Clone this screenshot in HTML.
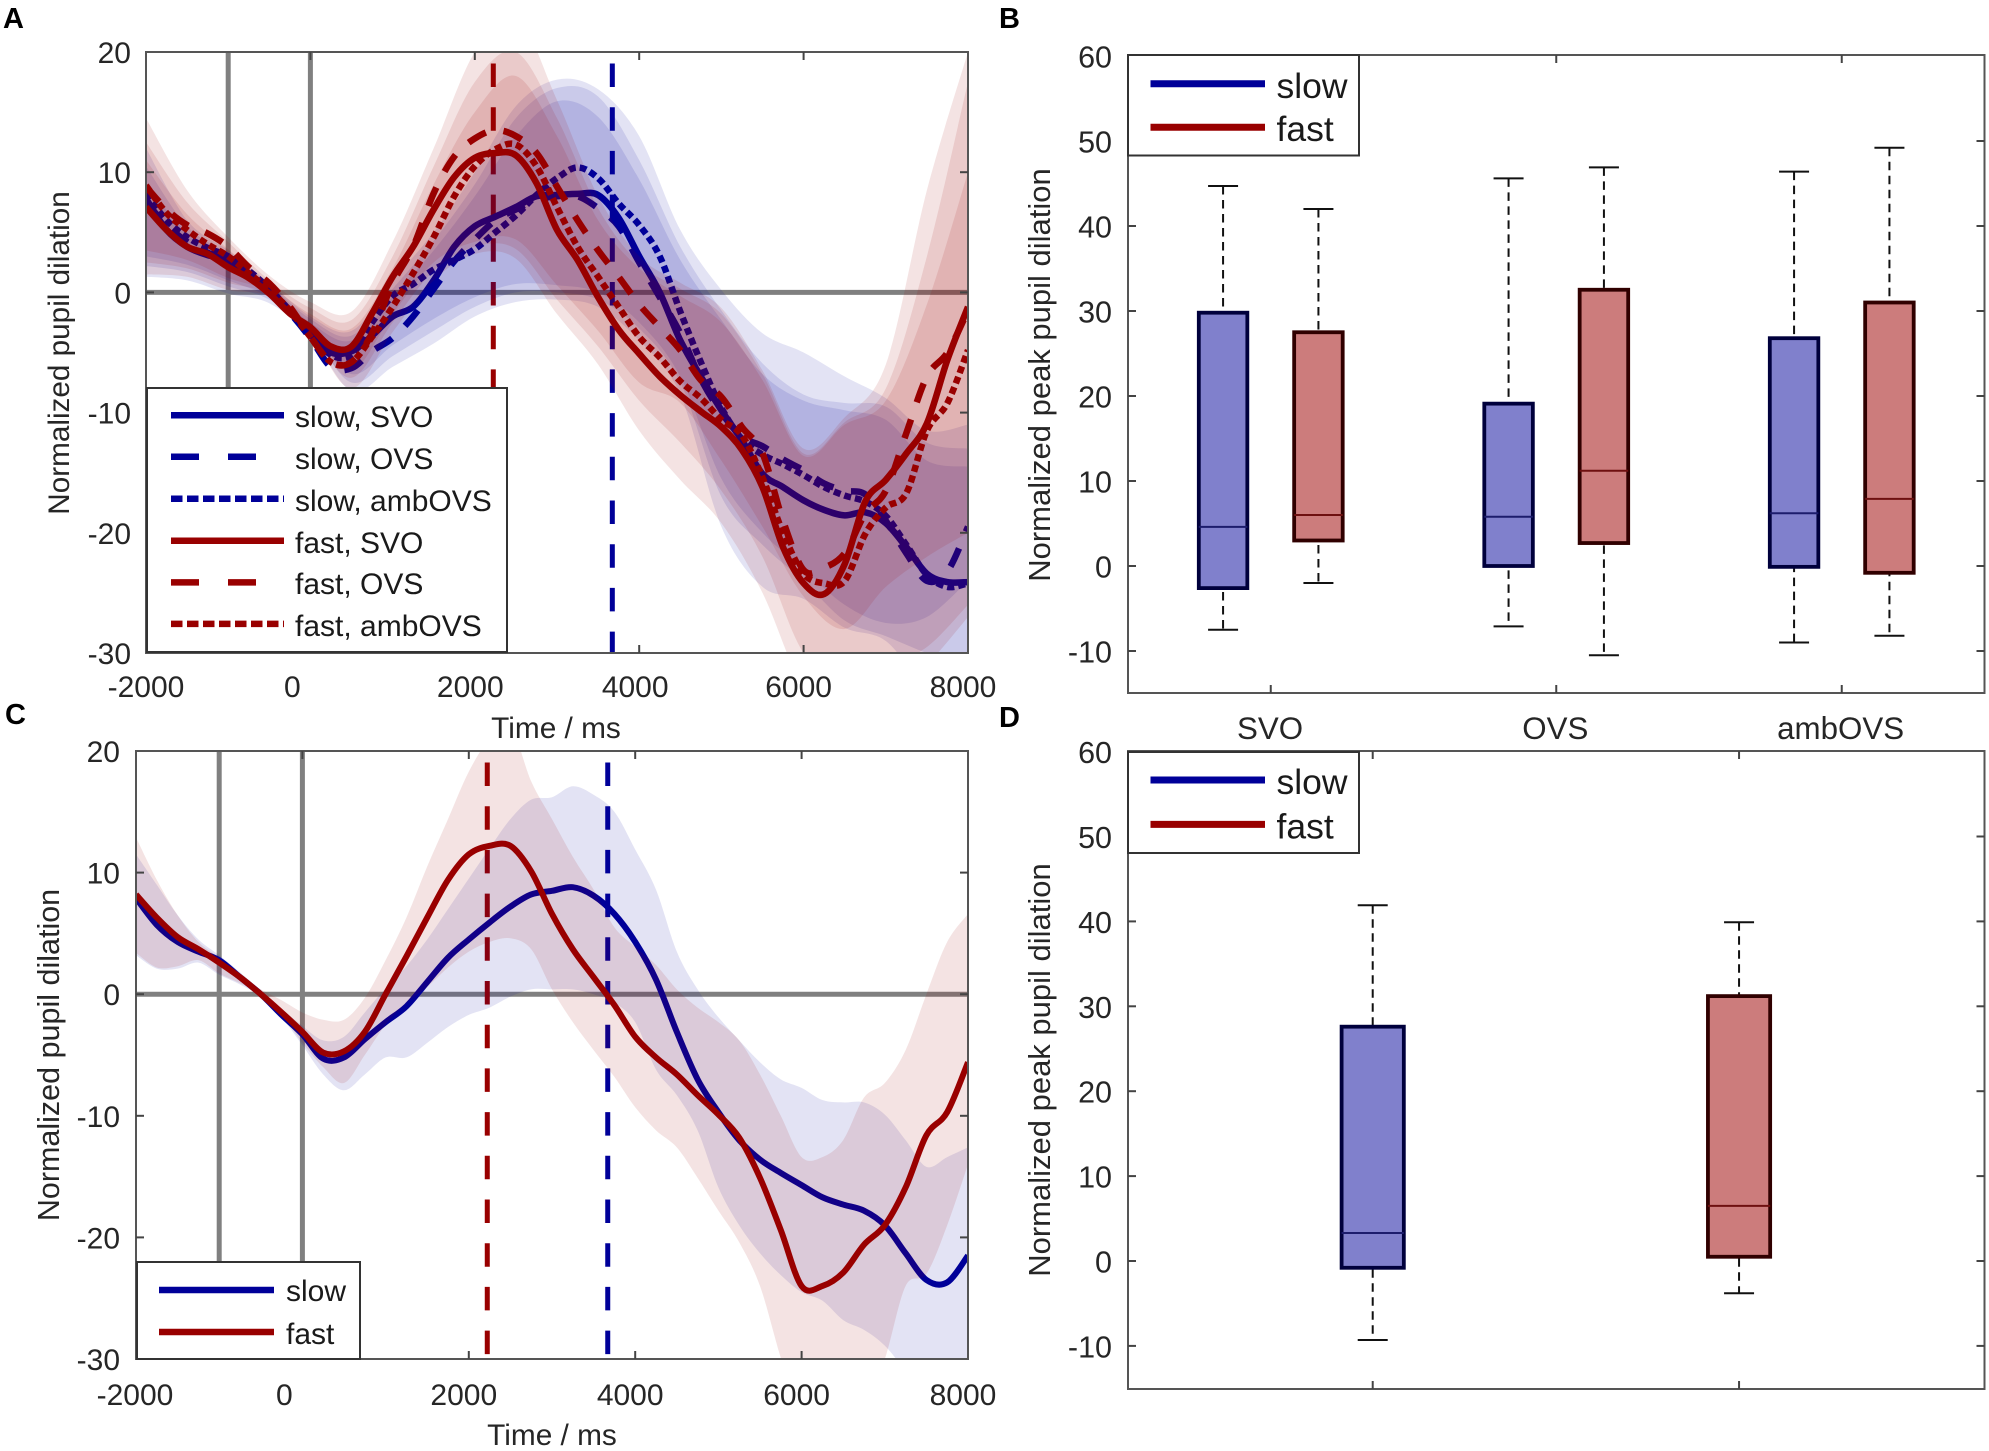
<!DOCTYPE html>
<html lang="en">
<head>
<meta charset="utf-8">
<title>Pupil dilation by speed and sentence type</title>
<style>
html,body{margin:0;padding:0;background:#fff;}
svg{display:block;font-family:"Liberation Sans",Arial,sans-serif;}
</style>
</head>
<body>
<svg id="fig" xmlns="http://www.w3.org/2000/svg" width="1989" height="1451" viewBox="0 0 1989 1451">
  <defs>
    <clipPath id="clipA"><rect x="146" y="52" width="822" height="601"/></clipPath>
    <clipPath id="clipC"><rect x="136" y="751" width="832" height="608"/></clipPath>
  </defs>
  <text x="3" y="28" font-size="29" font-weight="bold" fill="#000">A</text>
  <text x="999" y="28" font-size="29" font-weight="bold" fill="#000">B</text>
  <text x="5" y="724" font-size="29" font-weight="bold" fill="#000">C</text>
  <text x="999" y="727" font-size="29" font-weight="bold" fill="#000">D</text>
</svg>
<script>
/* ---------- shared axis data ---------- */
const timeTicks = [-2000, 0, 2000, 4000, 6000, 8000];
const dilationTicks = [20, 10, 0, -10, -20, -30];
const peakTicks = [60, 50, 40, 30, 20, 10, 0, -10];
const referenceGreyTimes = [-1000, 0];
const fastPeakTimeA = 2225;
const slowPeakTimeA = 3673;
const fastPeakTimeC = 2222;
const slowPeakTimeC = 3670;

/* time grid for the curves (ms) */
const curveTimes = [-2000,-1750,-1500,-1250,-1000,-750,-500,-250,0,250,500,750,1000,1250,1500,1750,2000,2250,2500,2750,3000,3250,3500,3750,4000,4250,4500,4750,5000,5250,5500,5750,6000,6250,6500,6750,7000,7250,7500,7750,8000];
/* time grid for panel A's error bands (ms) */
const bandTimes = [-2000,-1500,-1000,-500,0,500,1000,1500,2000,2500,3000,3500,4000,4500,5000,5500,6000,6500,7000,7500,8000];

/* ---------- panel A curves ---------- */
const slowSvoA = [7.8,5.2,3.8,3.1,2.7,1.3,.2,-1.6,-3.5,-5,-4.9,-3.6,-2,-1.2,1,3.8,5.5,6.3,7.1,8,8.1,8.2,8.1,6.2,3,0,-4,-7,-9.8,-12.3,-15.1,-16.2,-17.3,-18.1,-18.55,-18.3,-19.2,-21.2,-23.4,-24.1,-24.1];
const slowOvsA = [7.5,5.6,4.2,3.3,2.6,1.5,.1,-1.7,-3.8,-6.2,-6.3,-4.9,-3.8,-2,.3,2.6,4.4,6,6.9,7.7,8,8,7,5.5,2.5,-.4,-3.4,-7.2,-10,-12,-12.8,-13.9,-14.8,-15.9,-16.5,-16.8,-19,-21.7,-24,-23.2,-19.5];
const slowAmbA = [8.2,6,4.6,3.7,3,1.8,.3,-1.5,-3.4,-5.2,-5.2,-2.5,-.3,.7,1.9,2.7,3.6,5,6.4,8.1,9.5,10.4,9.5,7.4,5.6,3,-1.6,-5.8,-9.6,-12.2,-13.5,-14.3,-15.2,-16.2,-16.9,-17.4,-18.6,-21,-23.5,-24.5,-24.2];
const fastSvoA = [7.1,5.2,3.8,3.2,2.1,1.2,-.1,-1.75,-2.9,-4.5,-4.5,-1.75,1.3,3.8,6.9,9.6,11.2,11.6,11.4,9.1,5.2,2.7,-.4,-3.1,-5.1,-7,-8.55,-9.9,-11.2,-13.1,-16.2,-21.2,-24.2,-25.1,-22.6,-17.4,-15.6,-13.4,-10.9,-5.6,-1.2];
const fastOvsA = [8.8,6.9,5.6,4.9,3.8,2.1,.75,-1.2,-3.7,-5.8,-5.8,-3.4,.75,3.8,8.25,11.3,12.8,13.5,13,11.6,8.8,6,3.5,1.3,-1,-2.9,-4.8,-7.3,-8.7,-11.2,-13.4,-19,-23.1,-22.9,-21.7,-18.4,-16.5,-11.7,-7,-5,-1.5];
const fastAmbA = [8.9,6.6,5.2,4,3,1.6,.2,-1.5,-3.7,-5.8,-5.8,-3.7,-1.2,1.6,4.6,8,10.5,11.9,12.3,10.5,7.1,3.8,1.3,-1.2,-3.7,-5.4,-7.4,-8.8,-10.6,-11.9,-15.4,-20,-23.4,-24.2,-24,-20.1,-17.9,-16.7,-11.5,-9.2,-4.8];

/* ---------- panel A error bands ---------- */
const slowSvoUpperA = [12,6,3.5,.8,-2,-3.2,1,5,10,15.5,17.7,16.9,13,5.2,.2,-3.4,-5,-7,-8.8,-11.5,-11];
const slowSvoLowerA = [1.3,1,-.1,-.9,-3.6,-8.2,-6.2,-4.25,-2,-.8,-.6,-1.2,-4,-8.5,-19.5,-24.5,-25.5,-27.9,-29,-33,-35];
const slowOvsUpperA = [10.5,5.5,3.2,.6,-2.2,-3.6,.3,4.3,9,14.5,17,16.3,11,3.8,-1.5,-5.9,-8.5,-9.2,-9.5,-12.5,-13];
const slowOvsLowerA = [2.2,1.7,.5,-.6,-3.3,-7.5,-5.3,-3.2,-1.2,0,0,-.6,-3,-7.5,-17,-21,-24,-27.3,-28.6,-30,-31];
const slowAmbUpperA = [9,5,3,.4,-2.5,-4,-.3,3.5,8,13,15.9,14.6,9.4,2.7,-2.3,-6.8,-9,-9.8,-10.6,-14,-14.5];
const slowAmbLowerA = [3,2.3,1,-.4,-3,-6.8,-4.4,-2.2,-.4,.7,.6,0,-2.5,-7,-15.5,-20,-23,-26,-27.5,-27,-24];
const fastSvoUpperA = [14.5,8.5,4.6,1.4,-.8,-1.6,4.2,12,20,23,16,8,3,.8,-1.3,-6.5,-13,-10.4,-6,8.5,20];
const fastSvoLowerA = [1.5,1.3,.2,-.4,-3.6,-8,-3.3,1,3.2,2.8,-1.8,-6,-11.5,-15.6,-19.2,-25,-33,-36,-34,-31,-27];
const fastOvsUpperA = [12.5,7.5,4.2,1,-1.3,-2.3,3,10.5,17.5,20,14.5,7,2.4,.3,-1.8,-6.8,-13.4,-10.8,-8,3,17.5];
const fastOvsLowerA = [2.5,2,.8,-.2,-3.4,-7.1,-2.5,1.8,3.8,3.6,-.6,-4.5,-9,-12.5,-16.5,-22,-30,-32,-31,-29.5,-26];
const fastAmbUpperA = [11,6.5,3.6,.7,-1.8,-3,2,9,15,18,13,6,2,-.3,-2.5,-7.3,-13.6,-11,-9,-1,10];
const fastAmbLowerA = [3.5,2.7,1.2,0,-3.2,-6.5,-1.8,2.5,4.2,4.4,.6,-3.2,-7.5,-9.2,-14,-19.5,-25.3,-28,-24.5,-22,-20];

/* ---------- panel C curves and bands ---------- */
const slowC = [7.9,5.7,4.3,3.5,2.8,1.4,0,-1.7,-3.3,-5.3,-5.2,-3.7,-2.3,-1,1,3,4.5,5.9,7.2,8.2,8.5,8.8,8.1,6.6,4.3,1.2,-3.1,-7,-9.7,-12,-13.6,-14.7,-15.7,-16.7,-17.3,-17.8,-19,-21.3,-23.5,-23.7,-21.5];
const fastC = [8.2,6.3,4.7,3.7,2.6,1.4,0,-1.5,-3.1,-4.8,-4.7,-3.1,0,3.1,6.3,9.4,11.5,12.2,12.2,10.1,6.6,3.7,1.4,-.9,-3.5,-5.2,-6.6,-8.3,-9.9,-11.8,-15.1,-19.4,-24,-24,-22.9,-20.6,-19,-15.9,-11.6,-9.7,-5.6];
const slowUpperC = [11.5,9,6.5,4.5,3.2,1.8,.3,-1.2,-2.6,-3.8,-3.5,-1.5,.5,2.3,4.5,7,9.5,12,14.4,16,16.2,17.1,16.4,15,11.9,8.6,3.5,.4,-1.9,-3.8,-5.6,-7,-7.7,-8.7,-8.9,-8.9,-9.9,-12,-14.2,-13.4,-12.6];
const slowLowerC = [3.2,2.1,2.1,2.6,1.6,.8,-.2,-1.9,-4.2,-6.6,-7.9,-6.6,-5.2,-5.2,-4,-2.7,-1.7,-1.1,-.2,.4,.4,.4,0,-.7,-2.3,-6.2,-8.3,-11.2,-15.9,-19,-21.3,-23.1,-24.5,-25.2,-26.8,-27.6,-28.9,-31,-33,-34,-35];
const fastUpperC = [12.9,9.4,6.5,4.3,3,1.5,.4,-.5,-1.5,-2.1,-2.1,-.3,2.8,6.3,10.5,14.4,18.3,21,22,17.5,14.4,11.3,8.6,5.5,3.9,2.4,.4,-1.1,-2.3,-3.8,-6.6,-10,-13.4,-13.4,-12,-8.5,-7.3,-4.6,0,4.3,6.6];
const fastLowerC = [3.4,2.2,2.3,2.8,1.7,.9,0,-1.7,-4,-6,-7.3,-5,-2.5,-.7,.6,2.2,3.5,4.3,4.6,3.7,.4,-2.3,-4.6,-6.8,-9.3,-11.2,-12.6,-15.1,-17.8,-20.4,-24,-29.9,-35,-36,-36,-34,-30,-24,-23,-19,-14];

/* ---------- panel B boxplots ---------- */
const categoriesB = ["SVO", "OVS", "ambOVS"];
const slowWhiskerHighB = [44.7, 45.6, 46.4];
const slowQ3B = [29.8, 19.1, 26.8];
const slowMedianB = [4.6, 5.8, 6.2];
const slowQ1B = [-2.6, 0, -0.1];
const slowWhiskerLowB = [-7.5, -7.1, -9];
const fastWhiskerHighB = [42, 46.9, 49.2];
const fastQ3B = [27.5, 32.5, 31];
const fastMedianB = [6, 11.2, 7.9];
const fastQ1B = [3, 2.7, -0.8];
const fastWhiskerLowB = [-2, -10.5, -8.2];

/* ---------- panel D boxplots ---------- */
const categoriesD = ["slow", "fast"];
const whiskerHighD = [41.9, 39.9];
const q3D = [27.6, 31.2];
const medianD = [3.3, 6.5];
const q1D = [-0.8, 0.5];
const whiskerLowD = [-9.3, -3.8];

/* ---------- helpers ---------- */
const SVGNS = "http://www.w3.org/2000/svg";
const fig = document.getElementById("fig");
const BLUE = "#000099";
const RED = "#990000";
const AXIS = "#555555";
const TEXT = "#262626";

function mk(tag, props, parent) {
  const e = document.createElementNS(SVGNS, tag);
  for (const k in props) e.setAttribute(k, props[k]);
  (parent || fig).appendChild(e);
  return e;
}
function smooth(pts) {
  let d = "M" + pts[0][0].toFixed(2) + " " + pts[0][1].toFixed(2);
  d += smoothTail(pts);
  return d;
}
function smoothTail(pts) {
  let d = "";
  for (let i = 0; i < pts.length - 1; i++) {
    const p0 = pts[Math.max(i - 1, 0)], p1 = pts[i], p2 = pts[i + 1], p3 = pts[Math.min(i + 2, pts.length - 1)];
    const c1x = p1[0] + (p2[0] - p0[0]) / 6, c1y = p1[1] + (p2[1] - p0[1]) / 6;
    const c2x = p2[0] - (p3[0] - p1[0]) / 6, c2y = p2[1] - (p3[1] - p1[1]) / 6;
    d += "C" + c1x.toFixed(2) + " " + c1y.toFixed(2) + " " + c2x.toFixed(2) + " " + c2y.toFixed(2) + " " + p2[0].toFixed(2) + " " + p2[1].toFixed(2);
  }
  return d;
}
function drawText(name, str, x, y, size, anchor, rot) {
  const t = mk("text", {x: x, y: y, "font-size": size, "text-anchor": anchor, fill: TEXT});
  
  
  if (rot) t.setAttribute("transform", "rotate(-90 " + x + " " + y + ")");
  t.textContent = str;
  return t;
}
function drawFrame(name, P) {
  const r = mk("rect", {x: P.left, y: P.top, width: P.right - P.left, height: P.bottom - P.top, fill: "none", stroke: AXIS, "stroke-width": 2});
  
  
}
function drawTickMark(name, x1, y1, x2, y2) {
  const l = mk("line", {x1: x1, y1: y1, x2: x2, y2: y2, stroke: "#444", "stroke-width": 2});
  
  
}
function drawLegend(prefix, box, entries, lineX1, lineX2, textX, size) {
  const g = mk("g", {});
  
  
  const r = mk("rect", {x: box.x, y: box.y, width: box.w, height: box.h, fill: "#fff", stroke: "#333", "stroke-width": 2}, g);
  
  
  entries.forEach(function (en) {
    const sample = mk("line", {x1: lineX1, x2: lineX2, y1: en.y, y2: en.y, stroke: en.color, "stroke-width": en.width || 6.5, "stroke-dasharray": en.dash || "none"}, g);
    
    
    const t = mk("text", {x: textX, y: en.base, "font-size": size, fill: "#1a1a1a"}, g);
    
    
    t.textContent = en.label;
  });
}

/* ---------- line panels (A, C) ---------- */
function linePanel(P, o) {
  const X = function (t) { return P.left + (t + 2000) / 10000 * (P.right - P.left); };
  const Y = function (v) { return P.top + (20 - v) / 50 * (P.bottom - P.top); };
  const group = mk("g", {"clip-path": "url(#" + o.clip + ")"});
  
  

  referenceGreyTimes.forEach(function (t) {
    const l = mk("line", {x1: X(t), x2: X(t), y1: P.top, y2: P.bottom, stroke: "#808080", "stroke-width": 5}, group);
    
    
  });
  const zero = mk("line", {x1: P.left, x2: P.right, y1: Y(0), y2: Y(0), stroke: "#808080", "stroke-width": 5}, group);
  
  

  [[o.fastPeak, RED, "fast-peak-marker"], [o.slowPeak, BLUE, "slow-peak-marker"]].forEach(function (m) {
    const l = mk("line", {x1: X(m[0]), x2: X(m[0]), y1: P.top + 11.5, y2: P.bottom, stroke: m[1], "stroke-width": 5, "stroke-dasharray": "23.5 20.2"}, group);
    
    
  });

  function band(times, upper, lower, color, name) {
    const up = times.map(function (t, i) { return [X(t), Y(upper[i])]; });
    const lo = times.map(function (t, i) { return [X(t), Y(lower[i])]; }).reverse();
    const d = smooth(up) + "L" + lo[0][0].toFixed(2) + " " + lo[0][1].toFixed(2) + smoothTail(lo) + "Z";
    const p = mk("path", {d: d, fill: color, "fill-opacity": 0.11, stroke: "none"}, group);
    
    
  }
  function curve(values, color, dash, name) {
    const pts = curveTimes.map(function (t, i) { return [X(t), Y(values[i])]; });
    const p = mk("path", {d: smooth(pts), fill: "none", stroke: color, "stroke-width": o.lineWidth, "stroke-linejoin": "round", "stroke-dasharray": dash || "none"}, group);
    
    
  }
  o.slowBands.forEach(function (b) { band(b[0], b[1], b[2], BLUE, b[3]); });
  o.slowCurves.forEach(function (c) { curve(c[0], BLUE, c[1], c[2]); });
  o.fastBands.forEach(function (b) { band(b[0], b[1], b[2], RED, b[3]); });
  o.fastCurves.forEach(function (c) { curve(c[0], RED, c[1], c[2]); });

  drawFrame(o.id + '-axes-frame', P);
  timeTicks.forEach(function (t, i) {
    if (t > -2000 && t < 8000) {
      drawTickMark(o.id + '-x-tick-top', X(t), P.top, X(t), P.top + 8);
      drawTickMark(o.id + '-x-tick-bottom', X(t), P.bottom, X(t), P.bottom - 8);
    }
    drawText(o.id + '-x-tick-label', String(t), X(t) + o.xNudge[i], o.xBase, 30, "middle");
  });
  dilationTicks.forEach(function (v) {
    if (v < 20 && v > -30) {
      drawTickMark(o.id + '-y-tick-left', P.left, Y(v), P.left + 8, Y(v));
      drawTickMark(o.id + '-y-tick-right', P.right, Y(v), P.right - 8, Y(v));
    }
    drawText(o.id + '-y-tick-label', String(v), o.yLabelRight, Y(v) + 11, 30, "end");
  });
  drawText(o.id + '-y-axis-title', "Normalized pupil dilation", o.yTitleX, o.yTitleY, o.yTitleSize, "middle", true);
  drawText(o.id + '-x-axis-title', "Time / ms", o.xTitleX, o.xTitleY, 29.8, "middle");
  drawLegend(o.id + '-legend', o.legend.box, o.legend.entries, o.legend.x1, o.legend.x2, o.legend.tx, 30);
}

linePanel({left: 146, right: 968, top: 52, bottom: 653}, {
  id: "panel-a", clip: "clipA", fastPeak: fastPeakTimeA, slowPeak: slowPeakTimeA, lineWidth: 6.5,
  slowBands: [
    [bandTimes, slowSvoUpperA, slowSvoLowerA, "slow-svo"],
    [bandTimes, slowOvsUpperA, slowOvsLowerA, "slow-ovs"],
    [bandTimes, slowAmbUpperA, slowAmbLowerA, "slow-ambovs"]
  ],
  slowCurves: [[slowSvoA, null, "slow-svo"], [slowOvsA, "20 18", "slow-ovs"], [slowAmbA, "7 4", "slow-ambovs"]],
  fastBands: [
    [bandTimes, fastSvoUpperA, fastSvoLowerA, "fast-svo"],
    [bandTimes, fastOvsUpperA, fastOvsLowerA, "fast-ovs"],
    [bandTimes, fastAmbUpperA, fastAmbLowerA, "fast-ambovs"]
  ],
  fastCurves: [[fastSvoA, null, "fast-svo"], [fastOvsA, "20 18", "fast-ovs"], [fastAmbA, "7 4", "fast-ambovs"]],
  xNudge: [0, -18, -4.5, -4, -5, -5], xBase: 697, yLabelRight: 131, yTitleX: 69, yTitleY: 353, yTitleSize: 29.7, xTitleX: 556, xTitleY: 738,
  legend: {
    box: {x: 147, y: 388, w: 360, h: 264}, x1: 171, x2: 284, tx: 295,
    entries: [
      {y: 415.3, base: 427, color: BLUE, label: "slow, SVO"},
      {y: 456.8, base: 469, color: BLUE, dash: "28 29", label: "slow, OVS"},
      {y: 498.8, base: 511, color: BLUE, dash: "11.5 4.5", label: "slow, ambOVS"},
      {y: 540.8, base: 553, color: RED, label: "fast, SVO"},
      {y: 582.4, base: 594, color: RED, dash: "28 29", label: "fast, OVS"},
      {y: 623.9, base: 636, color: RED, dash: "11.5 4.5", label: "fast, ambOVS"}
    ]
  }
});

linePanel({left: 136, right: 968, top: 751, bottom: 1359}, {
  id: "panel-c", clip: "clipC", fastPeak: fastPeakTimeC, slowPeak: slowPeakTimeC, lineWidth: 6,
  slowBands: [[curveTimes, slowUpperC, slowLowerC, "slow"]],
  slowCurves: [[slowC, null, "slow"]],
  fastBands: [[curveTimes, fastUpperC, fastLowerC, "fast"]],
  fastCurves: [[fastC, null, "fast"]],
  xNudge: [-1, -18, -5, -5, -5, -5], xBase: 1405, yLabelRight: 120, yTitleX: 59, yTitleY: 1055, yTitleSize: 30.5, xTitleX: 552, xTitleY: 1445,
  legend: {
    box: {x: 137, y: 1262, w: 223, h: 97}, x1: 159, x2: 274, tx: 286,
    entries: [
      {y: 1290, base: 1301, color: BLUE, label: "slow"},
      {y: 1332, base: 1344, color: RED, label: "fast"}
    ]
  }
});

/* ---------- box panels (B, D) ---------- */
function boxPanel(P, o) {
  const X = function (c) { return P.left + (c - o.xMin) / (o.xMax - o.xMin) * (P.right - P.left); };
  const Y = function (v) { return P.zero - v * P.perUnit; };
  function box(cx, high, q3, med, q1, low, fill, edge, medColor, name) {
    const hw = 0.085 * o.unit, capHw = 15;
    const g = mk("g", {});
    
    
    const whisker = mk("line", {x1: cx, x2: cx, y1: Y(high), y2: Y(low), stroke: "#111", "stroke-width": 2, "stroke-dasharray": "8.5 5.5"}, g);
    
    
    [high, low].forEach(function (v) {
      const cap = mk("line", {x1: cx - capHw, x2: cx + capHw, y1: Y(v), y2: Y(v), stroke: "#111", "stroke-width": 2}, g);
      
      
    });
    const r = mk("rect", {x: cx - hw, y: Y(q3), width: 2 * hw, height: Y(q1) - Y(q3), fill: fill, stroke: edge, "stroke-width": 3.8}, g);
    
    
    const m = mk("line", {x1: cx - hw, x2: cx + hw, y1: Y(med), y2: Y(med), stroke: medColor, "stroke-width": 2}, g);
    
    
  }
  o.boxes.forEach(function (b) {
    box(X(b.pos), b.high, b.q3, b.med, b.q1, b.low, b.fill, b.edge, b.medColor, o.id + '-box-' + b.name);
  });
  drawFrame(o.id + '-axes-frame', P);
  o.tickPos.forEach(function (c) {
    drawTickMark(o.id + '-x-tick-top', X(c), P.top, X(c), P.top + 8);
    drawTickMark(o.id + '-x-tick-bottom', X(c), P.bottom, X(c), P.bottom - 8);
  });
  peakTicks.forEach(function (v) {
    if (v < 60) {
      drawTickMark(o.id + '-y-tick-left', P.left, Y(v), P.left + 8, Y(v));
      drawTickMark(o.id + '-y-tick-right', P.right, Y(v), P.right - 8, Y(v));
    }
    drawText(o.id + '-y-tick-label', String(v), 1112, Y(v) + 11.5, 30.5, "end");
  });
  drawText(o.id + '-y-axis-title', "Normalized peak pupil dilation", 1050, o.yTitleY, 31, "middle", true);
  drawLegend(o.id + '-legend', o.legend.box, o.legend.entries, 1150.5, 1265, 1276.5, 35.5);
}

const SLOW_FILL = "#8080cc", FAST_FILL = "#cc7c7c";
const SLOW_EDGE = "#00003c", FAST_EDGE = "#300000";
const SLOW_MED = "#1c1c6c", FAST_MED = "#6e1010";

const boxesB = [];
categoriesB.forEach(function (name, i) {
  boxesB.push({pos: i + 1 - 0.167, name: name + "-slow", high: slowWhiskerHighB[i], q3: slowQ3B[i], med: slowMedianB[i], q1: slowQ1B[i], low: slowWhiskerLowB[i], fill: SLOW_FILL, edge: SLOW_EDGE, medColor: SLOW_MED});
  boxesB.push({pos: i + 1 + 0.167, name: name + "-fast", high: fastWhiskerHighB[i], q3: fastQ3B[i], med: fastMedianB[i], q1: fastQ1B[i], low: fastWhiskerLowB[i], fill: FAST_FILL, edge: FAST_EDGE, medColor: FAST_MED});
});
boxPanel({left: 1128, right: 1984.5, top: 55, bottom: 693, zero: 566, perUnit: 8.5}, {
  id: "panel-b", xMin: 0.5, xMax: 3.5, unit: 285.5, boxes: boxesB, tickPos: [1, 2, 3], yTitleY: 375,
  legend: {
    box: {x: 1128, y: 55, w: 231, h: 100.5},
    entries: [
      {y: 83.7, base: 98, color: BLUE, width: 7, label: "slow"},
      {y: 127.3, base: 141, color: RED, width: 7, label: "fast"}
    ]
  }
});
categoriesB.forEach(function (name, i) {
  drawText('panel-b-category-label', name, 1270 + i * 285.3, 739, 31.3, "middle");
});

const boxesD = categoriesD.map(function (name, i) {
  return {pos: i + 1, name: name, high: whiskerHighD[i], q3: q3D[i], med: medianD[i], q1: q1D[i], low: whiskerLowD[i],
    fill: i === 0 ? SLOW_FILL : FAST_FILL, edge: i === 0 ? SLOW_EDGE : FAST_EDGE, medColor: i === 0 ? SLOW_MED : FAST_MED};
});
boxPanel({left: 1128, right: 1984.5, top: 751, bottom: 1389, zero: 1261, perUnit: 8.49}, {
  id: "panel-d", xMin: 1 - 0.668, xMax: 2 + 0.67, unit: 366, boxes: boxesD, tickPos: [1, 2], yTitleY: 1070,
  legend: {
    box: {x: 1128, y: 752, w: 231, h: 101},
    entries: [
      {y: 780, base: 794, color: BLUE, width: 7, label: "slow"},
      {y: 824.4, base: 838.5, color: RED, width: 7, label: "fast"}
    ]
  }
});
</script>
</body>
</html>
